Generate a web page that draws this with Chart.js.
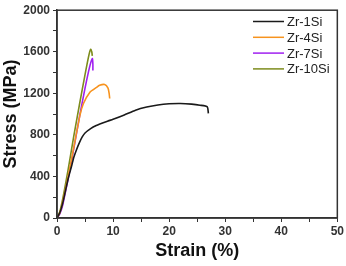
<!DOCTYPE html>
<html>
<head>
<meta charset="utf-8">
<script src="https://cdn.jsdelivr.net/npm/chart.js@4"></script>
<style>
  html, body { margin: 0; padding: 0; background: #fff; }
  #wrap { width: 346px; height: 266px; position: relative; }
</style>
</head>
<body>
<div id="wrap"><canvas id="stressChart"></canvas></div>
<script>
// stress-strain curves, values (strain in %, stress in MPa)
const labels = ['Zr-1Si', 'Zr-4Si', 'Zr-7Si', 'Zr-10Si'];
const colors = ['#1a1a1a', '#f7931e', '#a020f0', '#7d8c1c'];

const strain1 = [0, 0.5, 1, 1.5, 2, 2.6, 3, 3.5, 4, 4.5, 5, 6, 7, 8, 9, 10, 12, 14, 16, 18, 20, 22, 24, 25.5, 26.8, 27.0];
const stress1 = [0, 50, 140, 260, 380, 500, 585, 660, 725, 780, 818, 860, 890, 912, 932, 950, 992, 1038, 1068, 1088, 1099, 1102, 1096, 1086, 1071, 1007];

const strain4 = [0, 0.5, 1, 2, 3, 4.1, 4.7, 5.9, 7.0, 7.6, 8.5, 9.1, 9.3, 9.4];
const stress4 = [0, 50, 150, 400, 680, 990, 1100, 1213, 1255, 1277, 1285, 1250, 1200, 1150];

const strain7 = [0, 0.5, 1, 1.5, 2, 2.5, 3, 4, 5, 5.8, 6.3, 6.4, 6.4];
const stress7 = [0, 40, 120, 250, 380, 520, 670, 970, 1250, 1450, 1535, 1480, 1420];

const strain10 = [0, 0.5, 1, 1.5, 2, 3, 4, 5, 5.7, 6.0, 6.2, 6.3];
const stress10 = [0, 60, 180, 320, 470, 790, 1090, 1380, 1570, 1624, 1600, 1560];

const xTicksMax = 50;
const yTicksMax = 2000;

function pts(xs, ys) {
    return xs.map((x, i) => ({x: x, y: ys[i]}));
}

// box around the plot area
const frame = {
    id: 'frame',
    afterDraw(chart) {
        const a = chart.chartArea, ctx = chart.ctx;
        ctx.save();
        ctx.strokeStyle = '#333';
        ctx.lineWidth = 1.5;
        ctx.strokeRect(a.left, a.top, a.right - a.left, a.bottom - a.top);
        ctx.restore();
    }
};

// legend drawn inside the top right corner
const innerLegend = {
    id: 'innerLegend',
    afterDraw(chart) {
        const ctx = chart.ctx;
        ctx.save();
        ctx.font = '13px "Liberation Sans", Arial, sans-serif';
        ctx.textBaseline = 'middle';
        chart.data.datasets.forEach((ds, i) => {
            const y = 21.5 + i * 15.8;
            ctx.strokeStyle = ds.borderColor;
            ctx.lineWidth = 1.5;
            ctx.beginPath();
            ctx.moveTo(253, y);
            ctx.lineTo(284, y);
            ctx.stroke();
            ctx.fillStyle = '#222';
            ctx.fillText(ds.label, 287, y + 1);
        });
        ctx.restore();
    }
};

const tickFont = {family: '"Liberation Sans", Arial, sans-serif', size: 12, weight: 'bold'};
const titleFont = {family: '"Liberation Sans", Arial, sans-serif', size: 18, weight: 'bold'};

new Chart(document.getElementById('stressChart'), {
    type: 'scatter',
    data: {
        datasets: [
            {label: labels[0], data: pts(strain1, stress1), borderColor: colors[0]},
            {label: labels[1], data: pts(strain4, stress4), borderColor: colors[1]},
            {label: labels[2], data: pts(strain7, stress7), borderColor: colors[2]},
            {label: labels[3], data: pts(strain10, stress10), borderColor: colors[3]}
        ].map(d => Object.assign(d, {showLine: true, pointRadius: 0, borderWidth: 1.6, tension: 0.2, fill: false}))
    },
    options: {
        responsive: true,
        maintainAspectRatio: false,
        animation: false,
        layout: {padding: {top: 7, right: 7, left: 0, bottom: 0}},
        plugins: {legend: {display: false}, tooltip: {enabled: false}},
        scales: {
            x: {
                type: 'linear',
                min: 0,
                max: xTicksMax,
                afterFit: s => { s.height = 48; },
                border: {color: '#333', width: 1.5},
                grid: {drawOnChartArea: false, tickLength: 4, tickColor: '#333'},
                ticks: {
                    stepSize: 5,
                    padding: 2,
                    color: '#333',
                    font: tickFont,
                    callback: v => v % 10 === 0 ? v : ''
                },
                title: {display: true, text: 'Strain (%)', color: '#111', font: titleFont, padding: {top: 9}}
            },
            y: {
                min: 0,
                max: yTicksMax,
                afterFit: s => { s.width = 57; },
                border: {color: '#333', width: 1.5},
                grid: {drawOnChartArea: false, tickLength: 4, tickColor: '#333'},
                ticks: {
                    stepSize: 200,
                    padding: 3,
                    color: '#333',
                    font: tickFont,
                    callback: v => v % 400 === 0 ? v : ''
                },
                title: {display: true, text: 'Stress (MPa)', color: '#111', font: titleFont, padding: {top: 0, bottom: 0}}
            }
        }
    },
    plugins: [frame, innerLegend]
});
</script>
</body>
</html>
